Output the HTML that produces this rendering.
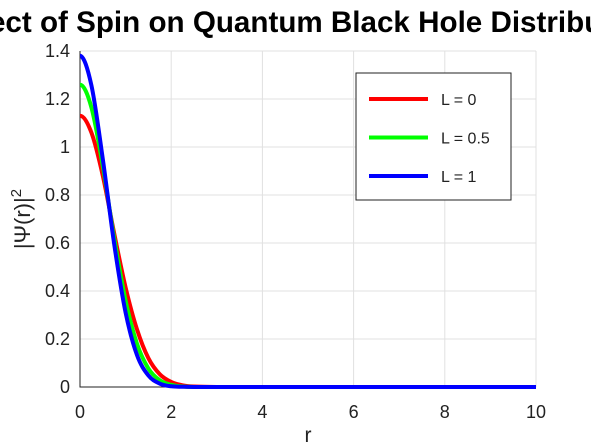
<!DOCTYPE html>
<html><head><meta charset="utf-8"><style>body{margin:0;background:#fff;overflow:hidden}svg{display:block;font-family:"Liberation Sans",sans-serif}</style></head>
<body>
<svg id="chart" width="591" height="443"></svg>
<script>
const rVals=[0,0.25,0.5,0.75,1,1.25,1.5,1.75,2,2.25,2.5,3,4,6,8,10];
const seriesL0=[1.13,1.06,0.88,0.64,0.415,0.24,0.12,0.053,0.021,0.007,0.002,0,0,0,0,0];
const seriesL05=[1.26,1.165,0.92,0.62,0.36,0.18,0.077,0.028,0.009,0.002,0,0,0,0,0,0];
const seriesL1=[1.38,1.257,0.95,0.595,0.31,0.133,0.048,0.014,0.003,0.001,0,0,0,0,0,0];
const labels=["L = 0","L = 0.5","L = 1"];
const colors=["#ff0000","#00ff00","#0000ff"];
const xTicks=[0,2,4,6,8,10];
const yTicks=[0,0.2,0.4,0.6,0.8,1,1.2,1.4];
const NS="http://www.w3.org/2000/svg";
const svg=document.getElementById('chart');
const X=v=>80+v*45.6, Y=v=>387-v*240;
function mk(t,a,p){const e=document.createElementNS(NS,t);for(const k in a)e.setAttribute(k,a[k]);(p||svg).appendChild(e);return e;}
xTicks.forEach(t=>{const l=mk('line',{x1:X(t),x2:X(t),y1:Y(0),y2:Y(1.4),stroke:'#e0e0e0'});

const tx=mk('text',{x:X(t),y:418,'text-anchor':'middle','font-size':18,fill:'#222'});tx.textContent=t;
});
yTicks.forEach(t=>{const l=mk('line',{x1:X(0),x2:X(10),y1:Y(t),y2:Y(t),stroke:'#e0e0e0'});

const tx=mk('text',{x:70,y:Y(t)+6,'text-anchor':'end','font-size':18,fill:'#222'});tx.textContent=t;
});
const ax=mk('path',{d:`M${X(0)} ${Y(1.4)}V${Y(0)}H${X(10)}`,stroke:'#222',fill:'none'});

function smooth(pts){let d=`M${pts[0][0]} ${pts[0][1]}`;for(let i=0;i<pts.length-1;i++){
const p0=i>0?pts[i-1]:[2*pts[0][0]-pts[1][0],pts[1][1]],p1=pts[i],p2=pts[i+1],p3=pts[i+2]||p2;
d+=`C${p1[0]+(p2[0]-p0[0])/6} ${p1[1]+(p2[1]-p0[1])/6} ${p2[0]-(p3[0]-p1[0])/6} ${p2[1]-(p3[1]-p1[1])/6} ${p2[0]} ${p2[1]}`;}return d;}
[seriesL0,seriesL05,seriesL1].forEach((s,i)=>{const pts=rVals.map((r,j)=>[X(r),Y(s[j])]);
const p=mk('path',{d:smooth(pts),stroke:colors[i],'stroke-width':4,fill:'none'});
});
const lg=mk('g',{});
mk('rect',{x:356,y:73,width:155,height:127,fill:'#fff',stroke:'#222'},lg);
labels.forEach((t,i)=>{const y=99+i*38.5;mk('line',{x1:369,x2:428,y1:y,y2:y,stroke:colors[i],'stroke-width':4},lg);
const tx=mk('text',{x:441,y:y+6,'font-size':16,fill:'#222'},lg);tx.textContent=t;
});
const ti=mk('text',{x:303,y:32,'text-anchor':'middle','font-size':29.6,'font-weight':'bold',fill:'#000'});ti.textContent='Effect of Spin on Quantum Black Hole Distribution';

const xl=mk('text',{x:308,y:442,'text-anchor':'middle','font-size':21,fill:'#222'});xl.textContent='r';

const yl=mk('text',{x:0,y:0,'text-anchor':'middle','font-size':22,fill:'#222',transform:'translate(30,219) rotate(-90)'});
yl.innerHTML='|Ψ(r)|<tspan dy="-9" font-size="15">2</tspan>';

</script>
</body></html>
